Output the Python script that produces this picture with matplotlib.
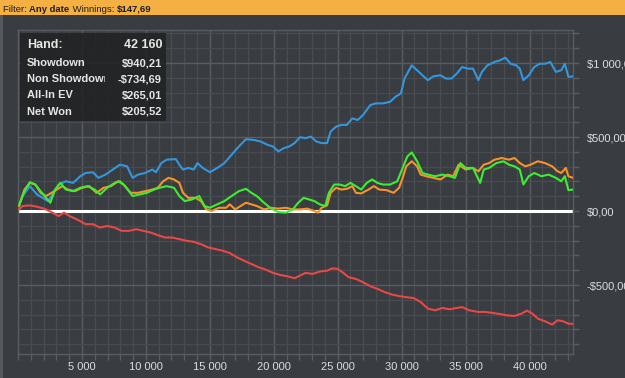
import matplotlib
matplotlib.use("Agg")
import matplotlib.pyplot as plt
from matplotlib.patches import Rectangle
from matplotlib.ticker import MultipleLocator, FuncFormatter
from matplotlib.transforms import Bbox, TransformedBbox

# showdown winnings (blue)
sd_hands = [80, 360, 930, 1490, 2340, 2620, 3180, 3740, 4310, 4870, 5290, 5860, 6280, 6840, 7410,
            7970, 8530, 8960, 9380, 9940, 10500, 10790, 11210, 11630, 12340, 12620, 12900, 13320,
            13740, 14030, 14450, 15010, 15580, 16140, 16700, 17270, 17830, 18390, 18960, 19520,
            19940, 20360, 20790, 21210, 21630, 22050, 22480, 22900, 23320, 23740, 24170, 24450,
            24870, 25290, 25720, 26140, 26560, 26980, 27270, 27550, 27970, 28530, 29100, 29520,
            29940, 30220, 30650, 30790, 31210, 31630, 32050, 32480, 33040, 33460, 33890, 34310,
            34730, 35150, 35580, 36000, 36280, 36700, 37270, 37690, 38110, 38530, 38960, 39240,
            39520, 39940, 40370, 40790, 41210, 41630, 42060, 42480, 42760, 43040, 43410]
sd_won = [34, 101, 168, 112, 67, 101, 179, 201, 190, 235, 257, 262, 224, 246, 280, 313, 302, 224,
          246, 257, 280, 262, 324, 347, 351, 313, 280, 291, 280, 324, 291, 262, 291, 324, 380, 436,
          485, 481, 470, 447, 436, 403, 425, 436, 459, 499, 492, 503, 470, 459, 459, 537, 570, 582,
          582, 626, 615, 649, 682, 716, 727, 727, 738, 772, 794, 895, 962, 984, 951, 917, 884, 910,
          917, 895, 895, 928, 973, 962, 962, 884, 940, 984, 1007, 1018, 1036, 995, 984, 962, 884,
          917, 973, 995, 995, 1007, 940, 951, 995, 906, 910]

# non showdown winnings (red)
nsd_hands = [80, 360, 930, 1490, 2050, 2620, 3180, 3600, 4030, 4590, 5290, 5860, 6420, 6980, 7550,
             8110, 8670, 9240, 9800, 10360, 10930, 11490, 12050, 12620, 13180, 13740, 14310,
             14870, 15430, 16000, 16560, 17130, 17690, 18250, 18820, 19380, 19940, 20510, 21070,
             21630, 22050, 22480, 23040, 23600, 24170, 24590, 25010, 25440, 25860, 26420, 26980,
             27550, 28110, 28670, 29240, 29800, 30360, 30930, 31490, 32060, 32620, 33180, 33750,
             34310, 34730, 35290, 36000, 36560, 37130, 37690, 38250, 38820, 39380, 39800, 40220,
             40650, 41210, 41770, 42200, 42620, 43040, 43410]
nsd_won = [11, 34, 38, 29, 16, -7, -34, -11, -34, -56, -89, -89, -112, -101, -112, -134, -134,
           -123, -134, -145, -163, -179, -179, -190, -201, -208, -224, -246, -257, -268, -284,
           -313, -336, -358, -380, -396, -418, -432, -441, -454, -436, -418, -425, -409, -403,
           -387, -391, -418, -447, -459, -481, -508, -526, -548, -564, -575, -582, -588, -615,
           -660, -671, -655, -664, -655, -649, -671, -682, -682, -689, -696, -705, -709, -693,
           -673, -693, -727, -745, -767, -738, -745, -761, -763]

# all-in EV (orange)
ev_hands = [80, 500, 930, 1350, 1770, 2190, 2620, 3040, 3460, 3890, 4450, 5010, 5580, 6140, 6700,
            7270, 7830, 8250, 8810, 9380, 9940, 10500, 10930, 11350, 11770, 12200, 12620, 12900,
            13320, 13890, 14310, 14730, 15150, 15720, 16280, 16560, 16980, 17410, 17830, 18250,
            18670, 19240, 19800, 20360, 20930, 21490, 22050, 22620, 23180, 23460, 23740, 24170,
            24450, 24870, 25290, 25720, 26140, 26420, 26840, 27410, 27830, 28250, 28820, 29380,
            29800, 30080, 30360, 30790, 31210, 31490, 31910, 32480, 33040, 33600, 34030, 34450,
            35010, 35580, 36000, 36420, 36840, 37270, 37830, 38390, 38820, 39240, 39660, 40080,
            40650, 41210, 41770, 42200, 42480, 42840, 43040, 43410]
ev_won = [34, 145, 190, 179, 123, 101, 123, 145, 168, 145, 134, 157, 168, 123, 157, 168, 201, 179,
          123, 123, 134, 145, 157, 201, 224, 213, 190, 123, 89, 89, 67, 11, 0, 22, 22, 45, 11, 34,
          56, 45, 34, 11, 22, 16, 22, 11, 11, 16, 0, -11, 22, 38, 123, 157, 145, 150, 168, 123,
          119, 145, 168, 145, 141, 123, 157, 224, 302, 336, 302, 246, 235, 224, 213, 246, 235,
          313, 280, 291, 268, 313, 324, 347, 358, 347, 358, 324, 302, 313, 336, 324, 302, 268,
          257, 291, 235, 224]

# net won (green)
net_hands = [80, 500, 930, 1350, 1770, 2190, 2530, 2900, 3320, 3740, 4310, 4870, 5430, 6000, 6420,
             6980, 7550, 7970, 8390, 8960, 9520, 10080, 10650, 11070, 11630, 12200, 12620, 13040,
             13600, 14170, 14590, 15010, 15580, 16140, 16700, 17270, 17830, 18250, 18670, 19240,
             19800, 20360, 20930, 21490, 21910, 22340, 22760, 23180, 23600, 24030, 24310, 24730,
             25150, 25580, 26000, 26420, 26840, 27270, 27690, 28110, 28530, 29100, 29660, 30080,
             30450, 30790, 31210, 31630, 32060, 32620, 33180, 33750, 34170, 34590, 35010, 35580,
             36140, 36420, 36840, 37410, 37970, 38390, 38820, 39240, 39520, 39940, 40370, 40930,
             41490, 42060, 42480, 42760, 43040, 43410]
net_won = [38, 134, 195, 179, 134, 89, 56, 145, 190, 145, 134, 157, 168, 145, 112, 157, 190, 201,
           168, 101, 112, 123, 145, 157, 168, 157, 101, 67, 78, 101, 34, 22, 45, 67, 101, 134, 150,
           123, 101, 56, 16, -7, -11, 11, 56, 89, 78, 67, 45, 34, 123, 179, 179, 168, 190, 168,
           145, 190, 213, 190, 179, 179, 201, 291, 369, 396, 336, 257, 246, 235, 246, 235, 224,
           324, 291, 291, 190, 280, 291, 324, 336, 313, 302, 280, 179, 235, 257, 235, 246, 224,
           201, 235, 141, 145]

x_ticks = [5000, 10000, 15000, 20000, 25000, 30000, 35000, 40000]
y_ticks = [-500, 0, 500, 1000]

stat_names = ["Hand:", "Showdown", "Non Showdown", "All-In EV", "Net Won"]
stat_values = ["42 160", "$940,21", "-$734,69", "$265,01", "$205,52"]

bg = "#393c40"
grid_minor = "#484b4f"
grid_major = "#595c60"
txt = "#dcdde0"

W, H = 625, 378
fig = plt.figure(figsize=(W / 100, H / 100), dpi=100, facecolor=bg)

# header strip
fig.patches.append(Rectangle((0, 1 - 15 / H), 1, 15 / H, transform=fig.transFigure,
                             facecolor="#f4b043", edgecolor="none", zorder=0))
fig.patches.append(Rectangle((0, 0), 2.5 / W, 1 - 15 / H, transform=fig.transFigure,
                             facecolor="#55585c", edgecolor="none", zorder=0))
hx = 3 / W
hy = 1 - 11.5 / H
parts = [("Filter: ", "normal"), ("Any date", "bold"), (" Winnings: ", "normal"), ("$147,69", "bold")]
renderer = fig.canvas.get_renderer()
for s, w in parts:
    t = fig.text(hx, hy, s, fontsize=6.8, fontweight=w, color="#1d1d1d", family="Liberation Sans")
    bb = t.get_window_extent(renderer)
    hx += bb.width / W

ax = fig.add_axes([18 / W, 1 - 354 / H, (573 - 18) / W, (354 - 30) / H])
ax.set_facecolor(bg)
ax.set_xlim(0, 43400)
ax.set_ylim(-966, 1223)

ax.xaxis.set_major_locator(MultipleLocator(5000))
ax.xaxis.set_minor_locator(MultipleLocator(1000))
ax.yaxis.set_major_locator(MultipleLocator(500))
ax.yaxis.set_minor_locator(MultipleLocator(100))
ax.grid(which="minor", color=grid_minor, lw=1.0)
ax.grid(which="major", color=grid_major, lw=1.0)
ax.set_axisbelow(True)

ax.yaxis.tick_right()
ax.set_xticks(x_ticks)
ax.set_yticks(y_ticks)
ax.xaxis.set_major_formatter(FuncFormatter(lambda v, p: f"{int(v):,}".replace(",", " ")))


def money(v, p):
    s = f"{abs(int(v)):,}".replace(",", " ") + ",00"
    return ("-$" if v < 0 else "$") + s


ax.yaxis.set_major_formatter(FuncFormatter(money))
ax.tick_params(which="both", colors=grid_major, length=4, width=1)
ax.tick_params(axis="x", which="both", labelcolor=txt, labelsize=8, pad=2)
ax.tick_params(axis="y", which="both", labelcolor=txt, labelsize=8, pad=6)
for lab in ax.get_xticklabels() + ax.get_yticklabels():
    lab.set_family("Liberation Sans")
for sp in ax.spines.values():
    sp.set_color(grid_major)
    sp.set_linewidth(1.0)

ax.axhline(0, color="white", lw=2.2, zorder=2)
ax.plot(nsd_hands, nsd_won, color="#e84848", lw=1.5, zorder=3)
ax.plot(sd_hands, sd_won, color="#3596dc", lw=1.5, zorder=3)
ax.plot(ev_hands, ev_won, color="#f7922c", lw=1.5, zorder=4)
ax.plot(net_hands, net_won, color="#3ded33", lw=1.5, zorder=5)

# stats box
box_l, box_t, box_r, box_b = 20, 33, 166, 121
fig.patches.append(Rectangle((box_l / W, 1 - box_b / H), (box_r - box_l) / W, (box_b - box_t) / H,
                             transform=fig.transFigure, facecolor="#222325", alpha=0.9,
                             edgecolor="none", zorder=5))
row_y = [45, 63, 79, 95, 112]
clip = TransformedBbox(Bbox([[box_l / W, 0], [105 / W, 1]]), fig.transFigure)
for i, (n, v) in enumerate(zip(stat_names, stat_values)):
    fs = 9 if i == 0 else 8
    t = fig.text(27 / W, 1 - row_y[i] / H, n, fontsize=fs, fontweight="bold", color="#e6e6e6",
                 va="center", ha="left", zorder=6, family="Liberation Sans")
    t.set_clip_box(clip)
    t.set_clip_on(True)
    fig.text(162 / W, 1 - row_y[i] / H, v, fontsize=fs, fontweight="bold", color="#e6e6e6",
             va="center", ha="right", zorder=6, family="Liberation Sans")

fig.savefig("out.png", dpi=100, facecolor=bg)
